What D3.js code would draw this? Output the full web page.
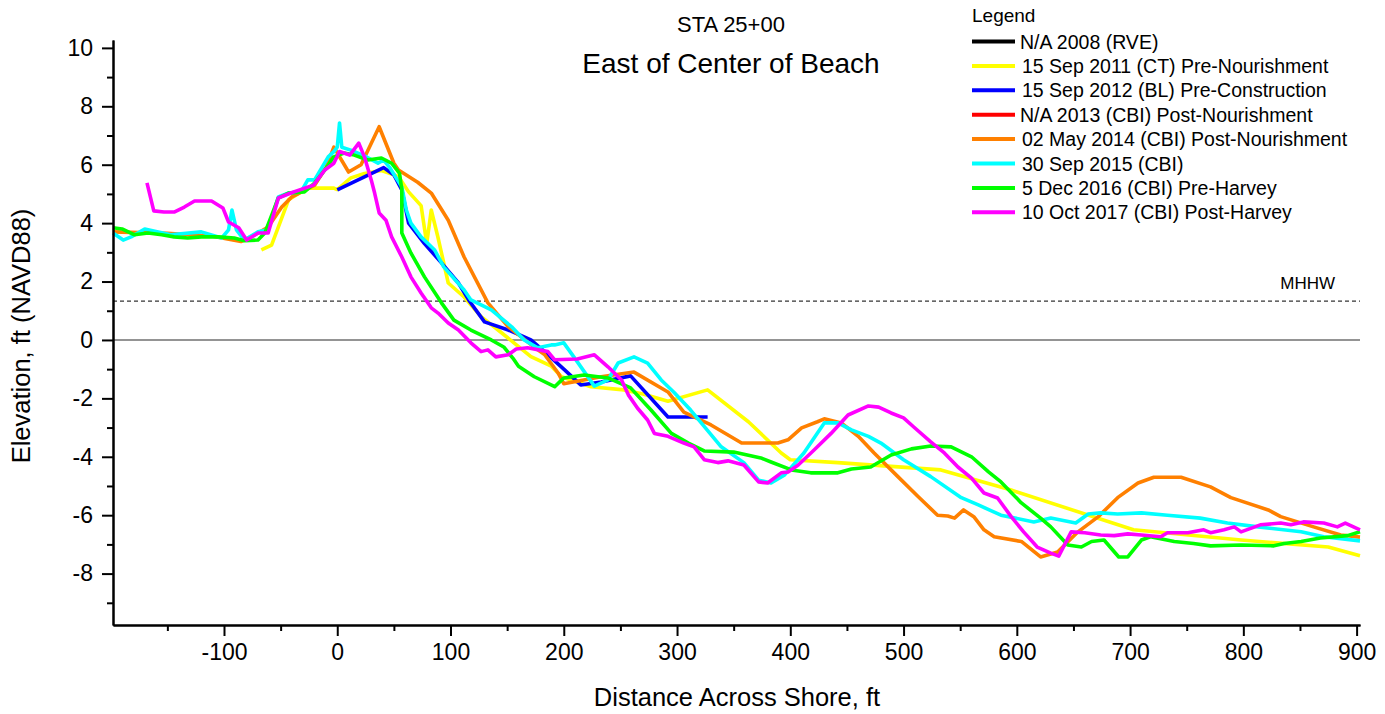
<!DOCTYPE html>
<html><head><meta charset="utf-8">
<script src="https://cdn.jsdelivr.net/npm/d3@7"></script>
<style>
html,body{margin:0;padding:0;background:#fff;}
text{font-family:"Liberation Sans",Arial,sans-serif;fill:#000;}
</style></head>
<body><svg id="c" width="1385" height="714"></svg>
<script>
// ---- data ----
const titleLines = ["STA 25+00", "East of Center of Beach"];
const xLabel = "Distance Across Shore, ft";
const yLabel = "Elevation, ft (NAVD88)";
const xTicks = [-100, 0, 100, 200, 300, 400, 500, 600, 700, 800, 900];
const xMinorTicks = [-150, -50, 50, 150, 250, 350, 450, 550, 650, 750, 850];
const yTicks = [-8, -6, -4, -2, 0, 2, 4, 6, 8, 10];
const yMinorTicks = [-9, -7, -5, -3, -1, 1, 3, 5, 7, 9];
const mhhw = 1.33;
const mhhwLabel = "MHHW";

const seriesNames = [
  "N/A 2008 (RVE)",
  "15 Sep 2011 (CT) Pre-Nourishment",
  "15 Sep 2012 (BL) Pre-Construction",
  "N/A 2013 (CBI) Post-Nourishment",
  "02 May 2014 (CBI) Post-Nourishment",
  "30 Sep 2015 (CBI)",
  "5 Dec 2016 (CBI) Pre-Harvey",
  "10 Oct 2017 (CBI) Post-Harvey"
];
const seriesColors = ["#000000","#ffff00","#0000ff","#ff0000","#ff8000","#00ffff","#00ff00","#ff00ff"];

const s2008 = [];
const s2011 = [[-67,3.08],[-58,3.25],[-43,4.8],[-32,5.07],[-26,5.2],[-3,5.2],[0,5.15],[12,5.55],[24,5.7],[39,5.8],[54,5.6],[63,5.07],[74,4.6],[79,3.3],[83,4.45],[89,3.5],[98,1.95],[112,1.47],[127,0.8],[142,0.34],[156,-0.1],[171,-0.57],[189,-0.9],[198,-1.26],[224,-1.6],[253,-1.71],[270,-1.85],[292,-2.1],[327,-1.71],[363,-2.8],[392,-3.87],[400,-4.1],[442,-4.2],[533,-4.45],[595,-5.14],[703,-6.5],[798,-6.85],[875,-7.09],[903,-7.39]];
const s2012 = [[0,5.14],[41,5.9],[50,5.65],[57,5.14],[63,4.0],[77,3.3],[92,2.64],[107,1.95],[116,1.37],[130,0.62],[151,0.34],[171,0.0],[183,-0.4],[200,-1.0],[215,-1.54],[233,-1.44],[259,-1.23],[292,-2.64],[327,-2.64]];
const s2013 = [];
const s2014 = [[-198,3.7],[-150,3.65],[-110,3.55],[-85,3.37],[-70,3.66],[-61,3.87],[-49,4.55],[-40,4.9],[-20,5.3],[-10,5.9],[-3,6.6],[10,5.75],[21,6.0],[37,7.3],[50,6.05],[54,5.82],[71,5.4],[83,5.03],[98,4.1],[112,2.84],[133,1.27],[151,0.45],[177,-0.34],[183,-0.5],[195,-1.13],[200,-1.5],[233,-1.26],[262,-1.1],[292,-1.78],[306,-2.47],[330,-2.91],[357,-3.53],[389,-3.53],[398,-3.42],[410,-3.01],[424,-2.8],[430,-2.7],[445,-2.84],[460,-3.3],[474,-3.87],[495,-4.68],[513,-5.37],[530,-6.0],[539,-6.03],[545,-6.1],[553,-5.82],[562,-6.05],[571,-6.5],[580,-6.74],[604,-6.9],[621,-7.43],[636,-7.26],[654,-6.57],[672,-6.05],[689,-5.4],[707,-4.9],[721,-4.7],[745,-4.7],[771,-5.03],[789,-5.4],[822,-5.82],[833,-6.05],[862,-6.4],[886,-6.68],[903,-6.75]];
const s2015 = [[-198,3.66],[-189,3.42],[-182,3.53],[-170,3.8],[-158,3.7],[-147,3.6],[-120,3.7],[-102,3.49],[-96,3.77],[-93,4.45],[-89,3.77],[-82,3.42],[-70,3.7],[-61,3.77],[-52,4.9],[-43,5.03],[-32,5.07],[-26,5.48],[-20,5.48],[-8,6.27],[-3,6.45],[0,6.6],[2,7.43],[4,6.6],[12,6.5],[24,6.3],[36,6.05],[41,6.16],[46,5.92],[57,5.24],[61,4.45],[65,4.0],[74,3.53],[86,3.08],[94,2.5],[112,1.71],[118,1.37],[136,1.03],[154,0.45],[165,0.0],[177,-0.27],[189,-0.17],[192,-0.17],[200,-0.1],[212,-0.75],[227,-1.58],[239,-1.37],[248,-0.79],[262,-0.58],[274,-0.79],[286,-1.37],[297,-1.78],[312,-2.4],[339,-3.66],[359,-4.2],[372,-4.8],[383,-4.9],[395,-4.62],[412,-3.87],[430,-2.84],[442,-2.84],[454,-3.08],[469,-3.3],[480,-3.53],[500,-4.1],[524,-4.68],[551,-5.4],[566,-5.65],[586,-6.0],[615,-6.23],[630,-6.1],[652,-6.27],[663,-5.96],[674,-5.92],[689,-5.96],[710,-5.92],[733,-6.0],[762,-6.1],[786,-6.27],[813,-6.4],[851,-6.57],[871,-6.74],[903,-6.88]];
const s2016 = [[-198,3.84],[-190,3.8],[-179,3.6],[-167,3.66],[-155,3.6],[-144,3.53],[-132,3.49],[-120,3.53],[-105,3.53],[-91,3.49],[-82,3.4],[-70,3.42],[-64,3.66],[-52,4.86],[-43,5.03],[-29,5.07],[-20,5.37],[-11,5.82],[-3,6.27],[6,6.4],[15,6.33],[27,6.16],[39,6.23],[48,6.05],[55,5.7],[57,5.14],[57,3.66],[65,2.98],[77,2.16],[92,1.27],[103,0.68],[118,0.34],[136,0.0],[147,-0.24],[155,-0.62],[160,-0.9],[174,-1.26],[192,-1.6],[200,-1.3],[218,-1.2],[239,-1.3],[259,-1.64],[277,-2.4],[295,-3.2],[310,-3.53],[324,-3.8],[350,-3.84],[374,-4.04],[383,-4.18],[401,-4.45],[418,-4.55],[442,-4.55],[454,-4.42],[471,-4.35],[489,-3.94],[507,-3.73],[524,-3.63],[542,-3.66],[560,-4.0],[575,-4.52],[586,-4.86],[604,-5.58],[621,-6.1],[630,-6.4],[645,-7.02],[657,-7.09],[666,-6.9],[677,-6.85],[690,-7.43],[698,-7.43],[710,-6.85],[718,-6.74],[739,-6.9],[756,-6.97],[771,-7.05],[798,-7.02],[827,-7.05],[836,-6.97],[851,-6.9],[868,-6.78],[892,-6.7],[903,-6.57]];
const s2017 = [[-168,5.38],[-162,4.42],[-153,4.38],[-144,4.38],[-135,4.55],[-126,4.76],[-111,4.76],[-101,4.52],[-96,4.04],[-87,3.84],[-80,3.42],[-70,3.66],[-61,3.66],[-52,4.86],[-41,5.03],[-21,5.3],[-11,5.82],[-3,6.05],[2,6.45],[11,6.33],[19,6.74],[24,6.27],[30,5.48],[33,5.03],[37,4.35],[43,4.1],[48,3.53],[57,2.84],[65,2.16],[74,1.61],[83,1.1],[89,0.92],[98,0.58],[107,0.34],[118,-0.1],[127,-0.4],[133,-0.34],[140,-0.58],[151,-0.51],[158,-0.31],[168,-0.27],[186,-0.4],[192,-0.68],[212,-0.65],[227,-0.51],[239,-0.92],[251,-1.37],[257,-1.88],[265,-2.33],[274,-2.74],[280,-3.2],[292,-3.3],[306,-3.53],[315,-3.66],[324,-4.1],[336,-4.2],[345,-4.14],[359,-4.28],[372,-4.86],[380,-4.9],[392,-4.55],[398,-4.52],[407,-4.28],[421,-3.77],[436,-3.2],[451,-2.57],[469,-2.26],[478,-2.3],[489,-2.5],[500,-2.67],[509,-2.98],[524,-3.49],[536,-3.87],[548,-4.35],[560,-4.73],[571,-5.24],[583,-5.41],[595,-6.05],[606,-6.57],[618,-7.09],[630,-7.3],[637,-7.4],[648,-6.57],[660,-6.6],[674,-6.68],[686,-6.7],[698,-6.64],[710,-6.68],[727,-6.74],[733,-6.6],[751,-6.6],[765,-6.5],[771,-6.6],[783,-6.5],[792,-6.4],[798,-6.57],[815,-6.33],[833,-6.27],[842,-6.33],[853,-6.23],[871,-6.27],[883,-6.4],[890,-6.27],[903,-6.5]];
const seriesData = [s2008, s2011, s2012, s2013, s2014, s2015, s2016, s2017];

// ---- chart ----
const svg = d3.select("#c");
const x = d3.scaleLinear().domain([-198, 903]).range([113, 1360]);
const y = d3.scaleLinear().domain([-9.76, 10.27]).range([625, 40]);

// reference lines
svg.append("line").attr("x1", x.range()[0]).attr("x2", x.range()[1])
  .attr("y1", y(0)).attr("y2", y(0)).attr("stroke", "#707070").attr("stroke-width", 1.5);
svg.append("line").attr("x1", x.range()[0]).attr("x2", x.range()[1])
  .attr("y1", y(mhhw)).attr("y2", y(mhhw)).attr("stroke", "#000").attr("stroke-width", 1)
  .attr("stroke-dasharray", "4,3");
svg.append("text").attr("x", 1335).attr("y", y(mhhw) - 12).attr("text-anchor", "end")
  .style("font-size", "17px").text(mhhwLabel);

// series
const line = d3.line().x(d => x(d[0])).y(d => y(d[1]));
seriesData.forEach((s, i) => {
  if (!s.length) return;
  svg.append("path").datum(s).attr("d", line).attr("fill", "none")
    .attr("stroke", seriesColors[i]).attr("stroke-width", 3.6)
    .attr("stroke-linejoin", "round");
});

// axes
function styleAxis(g) {
  g.select(".domain").attr("stroke", "#000").attr("stroke-width", 2);
  g.selectAll(".tick line").attr("stroke", "#000").attr("stroke-width", 2);
  g.selectAll("text").style("font-family", '"Liberation Sans",Arial,sans-serif')
    .style("font-size", "23px").attr("fill", "#000");
}
const gx = svg.append("g").attr("transform", `translate(0,${y.range()[0]})`)
  .call(d3.axisBottom(x).tickValues(xTicks).tickSize(11).tickSizeOuter(0).tickPadding(8).tickFormat(d3.format("d")));
styleAxis(gx);
const gxm = svg.append("g").attr("transform", `translate(0,${y.range()[0]})`)
  .call(d3.axisBottom(x).tickValues(xMinorTicks).tickSize(6).tickSizeOuter(0).tickFormat(""));
styleAxis(gxm);
const gy = svg.append("g").attr("transform", `translate(${x.range()[0]},0)`)
  .call(d3.axisLeft(y).tickValues(yTicks).tickSize(11).tickSizeOuter(0).tickPadding(9).tickFormat(d3.format("d")));
styleAxis(gy);
const gym = svg.append("g").attr("transform", `translate(${x.range()[0]},0)`)
  .call(d3.axisLeft(y).tickValues(yMinorTicks).tickSize(6).tickSizeOuter(0).tickFormat(""));
styleAxis(gym);
gx.selectAll("text").text(d => d3.format("d")(d).replace("−", "-"));
gy.selectAll("text").text(d => d3.format("d")(d).replace("−", "-"));

// axis titles
svg.append("text").attr("x", 737).attr("y", 706).attr("text-anchor", "middle")
  .style("font-size", "25.5px").text(xLabel);
svg.append("text").attr("transform", "translate(30,336) rotate(-90)").attr("text-anchor", "middle")
  .style("font-size", "25.5px").text(yLabel);

// titles
svg.append("text").attr("x", 731).attr("y", 32).attr("text-anchor", "middle")
  .style("font-size", "22px").text(titleLines[0]);
svg.append("text").attr("x", 731).attr("y", 73).attr("text-anchor", "middle")
  .style("font-size", "28px").text(titleLines[1]);

// legend
const lg = svg.append("g");
lg.append("text").attr("x", 972).attr("y", 22).style("font-size", "19px").text("Legend");
seriesNames.forEach((n, i) => {
  const yy = 41.5 + i * 24.4;
  lg.append("line").attr("x1", 972).attr("x2", 1015).attr("y1", yy).attr("y2", yy)
    .attr("stroke", seriesColors[i]).attr("stroke-width", 4);
  lg.append("text").attr("x", i === 0 || i === 3 ? 1020 : 1022).attr("y", yy + 7)
    .style("font-size", "19.5px").text(n);
});
</script></body></html>
